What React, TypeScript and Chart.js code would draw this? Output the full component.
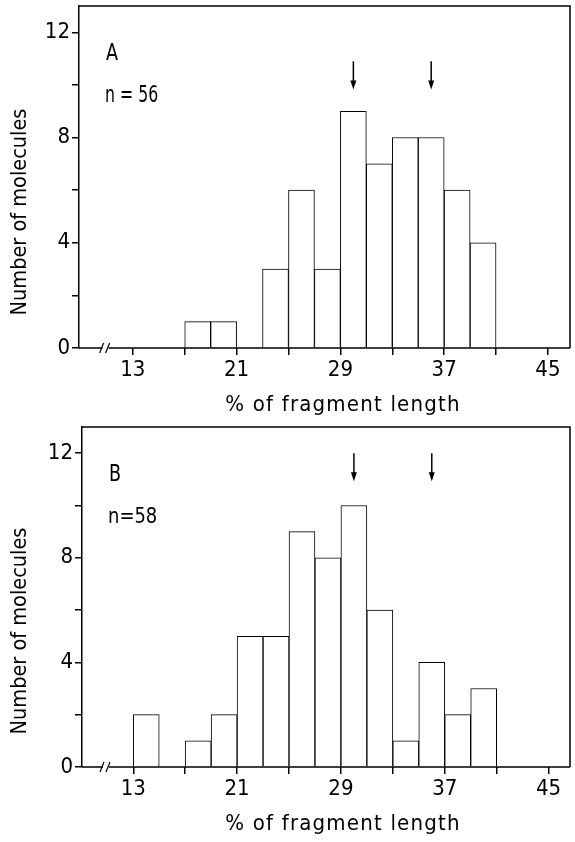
import React, { useEffect, useRef } from 'react';
import { Chart, registerables } from 'chart.js';

Chart.register(...registerables);

// ---------- data ----------
const binCentersA = [18, 20, 24, 26, 28, 30, 32, 34, 36, 38, 40];
const countsA = [1, 1, 3, 6, 3, 9, 7, 8, 8, 6, 4];
const binCentersB = [14, 18, 20, 22, 24, 26, 28, 30, 32, 34, 36, 38, 40];
const countsB = [2, 1, 2, 5, 5, 9, 8, 10, 6, 1, 4, 2, 3];

const xTickValues = [13, 17, 21, 25, 29, 33, 37, 41, 45];
const xTickLabels = ['13', '', '21', '', '29', '', '37', '', '45'];
const yTickValues = [0, 2, 4, 6, 8, 10, 12];
const yTickLabels = ['0', '', '4', '', '8', '', '12'];

const arrowXA = [30, 36];
const arrowFromA = 10.9;
const arrowToA = 9.83;
const arrowXB = [30, 36];
const arrowFromB = 12.0;
const arrowToB = 10.93;

const axisBreakValue = 10.9;

const panelLabelA = 'A';
const nLabelA = 'n = 56';
const panelLabelB = 'B';
const nLabelB = 'n=58';
const xTitle = '% of fragment length';
const yTitle = 'Number of molecules';

const NARROW = "'Liberation Sans Narrow', 'DejaVu Sans Condensed', 'Arial Narrow', sans-serif";

type Panel = {
  centers: number[];
  counts: number[];
  arrowX: number[];
  arrowFrom: number;
  arrowTo: number;
  label: string;
  nLabel: string;
  nSize: number;
  nScale: number;
  height: number;
  left: number;
  top: number;
  bottom: number;
  xMin: number;
  xMax: number;
};

const panelA: Panel = {
  centers: binCentersA, counts: countsA, arrowX: arrowXA, arrowFrom: arrowFromA, arrowTo: arrowToA,
  label: panelLabelA, nLabel: nLabelA, nSize: 23, nScale: 0.76,
  height: 417, left: 79, top: 6, bottom: 348, xMin: 8.85, xMax: 46.7,
};
const panelB: Panel = {
  centers: binCentersB, counts: countsB, arrowX: arrowXB, arrowFrom: arrowFromB, arrowTo: arrowToB,
  label: panelLabelB, nLabel: nLabelB, nSize: 21, nScale: 0.95,
  height: 425, left: 82, top: 10, bottom: 350, xMin: 9.05, xMax: 46.65,
};

function scaledText(ctx: CanvasRenderingContext2D, text: string, x: number, y: number, sx: number) {
  ctx.save();
  ctx.translate(x, y);
  ctx.scale(sx, 1);
  ctx.fillText(text, 0, 0);
  ctx.restore();
}

function makeOverlay(p: Panel) {
  return {
    id: 'overlay',
    afterDraw(chart: any) {
      const { ctx, chartArea } = chart;
      const { left, right, top, bottom } = chartArea;
      const xs = chart.scales.x;
      const ys = chart.scales.y;
      ctx.save();
      ctx.strokeStyle = '#000';
      ctx.fillStyle = '#000';
      ctx.lineWidth = 1.5;
      // frame top + right
      ctx.beginPath();
      ctx.moveTo(left, top);
      ctx.lineTo(right, top);
      ctx.lineTo(right, bottom);
      ctx.stroke();
      // baseline with break
      const bx = xs.getPixelForValue(axisBreakValue);
      ctx.beginPath();
      ctx.moveTo(left, bottom);
      ctx.lineTo(bx - 3, bottom);
      ctx.moveTo(bx + 3, bottom);
      ctx.lineTo(right, bottom);
      ctx.stroke();
      ctx.lineWidth = 1.2;
      ctx.beginPath();
      ctx.moveTo(bx - 6, bottom + 5);
      ctx.lineTo(bx - 2, bottom - 5);
      ctx.moveTo(bx, bottom + 5);
      ctx.lineTo(bx + 4, bottom - 5);
      ctx.stroke();
      // arrows
      ctx.lineWidth = 1.5;
      p.arrowX.forEach((v) => {
        const px = xs.getPixelForValue(v);
        const y1 = ys.getPixelForValue(p.arrowFrom);
        const y2 = ys.getPixelForValue(p.arrowTo);
        ctx.beginPath();
        ctx.moveTo(px, y1);
        ctx.lineTo(px, y2 - 7);
        ctx.stroke();
        ctx.beginPath();
        ctx.moveTo(px - 3, y2 - 9);
        ctx.lineTo(px + 3, y2 - 9);
        ctx.lineTo(px, y2);
        ctx.closePath();
        ctx.fill();
      });
      // panel texts
      ctx.textAlign = 'left';
      ctx.textBaseline = 'alphabetic';
      ctx.font = `23px ${NARROW}`;
      scaledText(ctx, p.label, left + 27, top + 54, 0.85);
      ctx.font = `${p.nSize}px ${NARROW}`;
      scaledText(ctx, p.nLabel, left + 26, top + 96, p.nScale);
      // axis titles
      ctx.font = `22px ${NARROW}`;
      ctx.textAlign = 'center';
      ctx.textBaseline = 'middle';
      (ctx as any).letterSpacing = '1.2px';
      ctx.fillText(xTitle, 343, bottom + 57);
      (ctx as any).letterSpacing = '0px';
      ctx.font = `21.5px ${NARROW}`;
      ctx.translate(20, bottom - 136);
      ctx.rotate(-Math.PI / 2);
      ctx.fillText(yTitle, 0, 0);
      ctx.restore();
    },
  };
}

function HistPanel({ p }: { p: Panel }) {
  const ref = useRef<HTMLCanvasElement>(null);
  useEffect(() => {
    if (!ref.current) return;
    const tickFont = { family: NARROW, size: 22, lineHeight: 1 };
    const chart = new Chart(ref.current, {
      type: 'bar',
      data: {
        datasets: [
          {
            data: p.centers.map((c, i) => ({ x: c, y: p.counts[i] })),
            backgroundColor: '#ffffff',
            borderColor: '#000000',
            borderWidth: 1,
            barPercentage: 1,
            categoryPercentage: 1,
            borderSkipped: 'bottom',
          } as any,
        ],
      },
      options: {
        responsive: false,
        animation: false,
        devicePixelRatio: 1,
        layout: { padding: { top: p.top, right: 5, left: 0, bottom: 0 } },
        plugins: { legend: { display: false }, tooltip: { enabled: false }, title: { display: false } },
        scales: {
          x: {
            type: 'linear',
            min: p.xMin,
            max: p.xMax,
            offset: false,
            afterBuildTicks: (s: any) => {
              s.ticks = xTickValues.map((v) => ({ value: v }));
            },
            afterFit: (s: any) => {
              s.height = p.height - p.bottom;
              s.paddingLeft = 0;
              s.paddingRight = 0;
            },
            ticks: {
              autoSkip: false,
              maxRotation: 0,
              minRotation: 0,
              padding: 4,
              color: '#000',
              font: tickFont,
              callback: (_v: any, i: number) => xTickLabels[i],
            },
            grid: { offset: false, drawOnChartArea: false, drawTicks: true, tickLength: 7, color: '#000', lineWidth: 1.5 },
            border: { display: false },
          },
          y: {
            type: 'linear',
            min: 0,
            max: 13,
            afterBuildTicks: (s: any) => {
              s.ticks = yTickValues.map((v) => ({ value: v }));
            },
            afterFit: (s: any) => {
              s.width = p.left;
              s.paddingTop = 0;
              s.paddingBottom = 0;
            },
            ticks: {
              autoSkip: false,
              padding: 2,
              color: '#000',
              font: tickFont,
              callback: (_v: any, i: number) => yTickLabels[i],
            },
            grid: { drawOnChartArea: false, drawTicks: true, tickLength: 7, color: '#000', lineWidth: 1.5 },
            border: { display: true, color: '#000', width: 1.5 },
          },
        },
      } as any,
      plugins: [makeOverlay(p)],
    });
    return () => chart.destroy();
  }, [p]);
  return <canvas ref={ref} width={575} height={p.height} style={{ display: 'block', width: 575, height: p.height }} />;
}

export default function App() {
  return (
    <div style={{ position: 'absolute', left: 0, top: 0, width: 575, height: 842, background: '#fff' }}>
      <HistPanel p={panelA} />
      <HistPanel p={panelB} />
    </div>
  );
}
